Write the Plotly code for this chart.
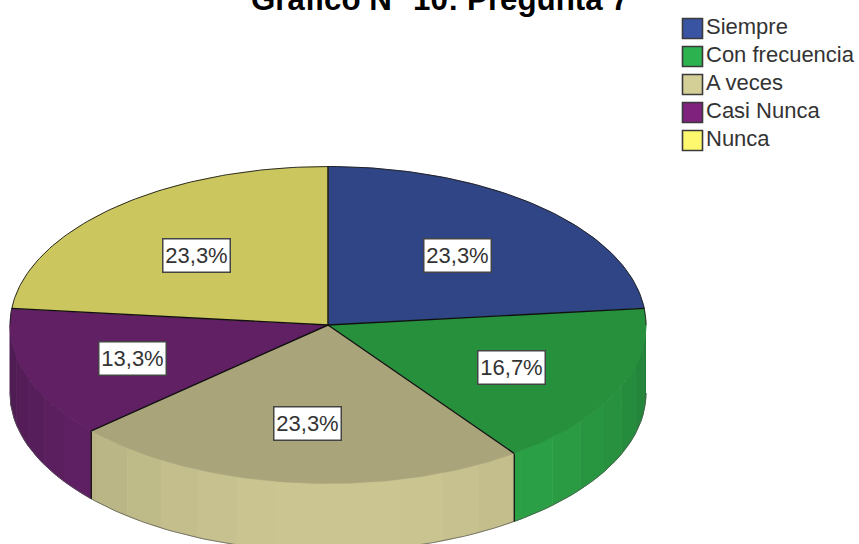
import numpy as np
import plotly.graph_objects as go

# ---- data ----
categories = ["Siempre", "Con frecuencia", "A veces", "Casi Nunca", "Nunca"]
percent = [23.3, 16.7, 23.3, 13.3, 23.3]
title_text = "Gráfico N° 10: Pregunta 7"

# ---- styles ----
legend_colors = ["#3A54A4", "#2CB24F", "#D4CE97", "#7E227D", "#FDF86E"]
top_colors = ["#2F4586", "#26903D", "#A9A47A", "#612064", "#CBC65E"]
side_peak = [(47, 69, 134), (46, 170, 74), (203, 198, 146), (106, 37, 112), (203, 198, 94)]
FONT = "Liberation Sans, Arial, sans-serif"

# pie geometry in pixel-like axis units
CX, CY, RX, RY, DEPTH = 328.0, 325.0, 318.0, 158.5, 68.0
LABEL_R = 0.61
label_shift = [(0, 2), (6, 3), (0, 2), (-11, 4), (-2, 2)]
# legend block
LEG_X, LEG_Y, LEG_STEP, LEG_SIZE = 692.5, 28.5, 28.0, 20


def arc(a0, a1, dy=0.0, n=None):
    n = n or max(3, int(abs(a1 - a0) / 1.0) + 2)
    t = np.radians(np.linspace(a0, a1, n))
    return CX + RX * np.sin(t), CY + dy - RY * np.cos(t)


total = sum(percent)
edges = np.concatenate([[0], np.cumsum(percent)]) / total * 360.0

fig = go.Figure()

# side walls (only the front half of the disc shows)
for i in range(len(percent)):
    a0, a1 = max(edges[i], 90.0), min(edges[i + 1], 270.0)
    if a1 <= a0:
        continue
    stops = np.append(np.arange(a0, a1, 7.5), a1)
    for s0, s1 in zip(stops[:-1], stops[1:]):
        m = 0.5 * (s0 + s1)
        f = 0.73 + 0.27 * np.cos(np.radians(m - 178.0))
        col = "rgb(%d,%d,%d)" % tuple(int(c * f) for c in side_peak[i])
        xt, yt = arc(s0, s1, 0.0, 6)
        xb, yb = arc(s1, s0, DEPTH, 6)
        fig.add_trace(go.Scatter(
            x=np.r_[xt, xb], y=np.r_[yt, yb], mode="lines", fill="toself",
            fillcolor=col, line=dict(color=col, width=1.0),
            hoverinfo="skip", showlegend=False))

# lower outline and cut edges of the wall
xo, yo = arc(90, 270, DEPTH)
fig.add_trace(go.Scatter(x=xo, y=yo, mode="lines", line=dict(color="#555555", width=0.7),
                         hoverinfo="skip", showlegend=False))
for a in edges[1:-1]:
    if 90 < a < 270:
        xe, ye = arc(a, a, 0.0, 2)
        fig.add_trace(go.Scatter(x=[xe[0], xe[0]], y=[ye[0], ye[0] + DEPTH], mode="lines",
                                 line=dict(color="#111111", width=1.3),
                                 hoverinfo="skip", showlegend=False))

# top slices
for i in range(len(percent)):
    xa, ya = arc(edges[i], edges[i + 1])
    fig.add_trace(go.Scatter(
        x=np.r_[CX, xa, CX], y=np.r_[CY, ya, CY], mode="lines", fill="toself",
        fillcolor=top_colors[i], line=dict(color=top_colors[i], width=0.5),
        hoverinfo="skip", showlegend=False))

# back rim and radial separators in black
xr, yr = arc(-90, 90)
fig.add_trace(go.Scatter(x=xr, y=yr, mode="lines", line=dict(color="#1a1a1a", width=0.9),
                         hoverinfo="skip", showlegend=False))
for a in edges[:-1]:
    xe, ye = arc(a, a, 0.0, 2)
    fig.add_trace(go.Scatter(x=[CX, xe[0]], y=[CY, ye[0]], mode="lines",
                             line=dict(color="#111111", width=1.4),
                             hoverinfo="skip", showlegend=False))

# legend block
for k, (name, col) in enumerate(zip(categories, legend_colors)):
    fig.add_trace(go.Scatter(
        x=[LEG_X], y=[LEG_Y + k * LEG_STEP], mode="markers+text", name=name,
        text=[name], textposition="middle right", cliponaxis=False,
        textfont=dict(family=FONT, size=22, color="#333333"),
        marker=dict(symbol="square", size=LEG_SIZE, color=col, line=dict(color="#3a3a3a", width=1.6)),
        hoverinfo="skip", showlegend=False))

# percent labels
for i, v in enumerate(percent):
    mid = np.radians(0.5 * (edges[i] + edges[i + 1]))
    lx = CX + LABEL_R * RX * np.sin(mid) + label_shift[i][0]
    ly = CY - LABEL_R * RY * np.cos(mid) + label_shift[i][1]
    fig.add_annotation(
        x=lx, y=ly, xref="x", yref="y", showarrow=False,
        text=f"{v:.1f}%".replace(".", ","),
        font=dict(family=FONT, size=22, color="#333333"),
        width=63, height=29, align="center", valign="middle",
        bgcolor="#FFFFFF", bordercolor="#444444", borderwidth=1.5, borderpad=1.5)

fig.add_annotation(
    x=440, y=13, xref="x", yref="y", yanchor="bottom", xanchor="center", showarrow=False,
    text=f"<b>{title_text}</b>", yshift=-6,
    font=dict(family=FONT, size=31.3, color="#000000"))

fig.update_layout(
    width=859, height=544, margin=dict(l=0, r=0, t=0, b=0, autoexpand=False),
    paper_bgcolor="#FFFFFF", plot_bgcolor="#FFFFFF",
    xaxis=dict(range=[0, 859], visible=False, fixedrange=True),
    yaxis=dict(range=[544, 0], visible=False, fixedrange=True),
    showlegend=False,
)
fig.write_html("out.html", config={"displayModeBar": False},
               post_script="document.body.style.margin='0';document.body.style.overflow='hidden';")
